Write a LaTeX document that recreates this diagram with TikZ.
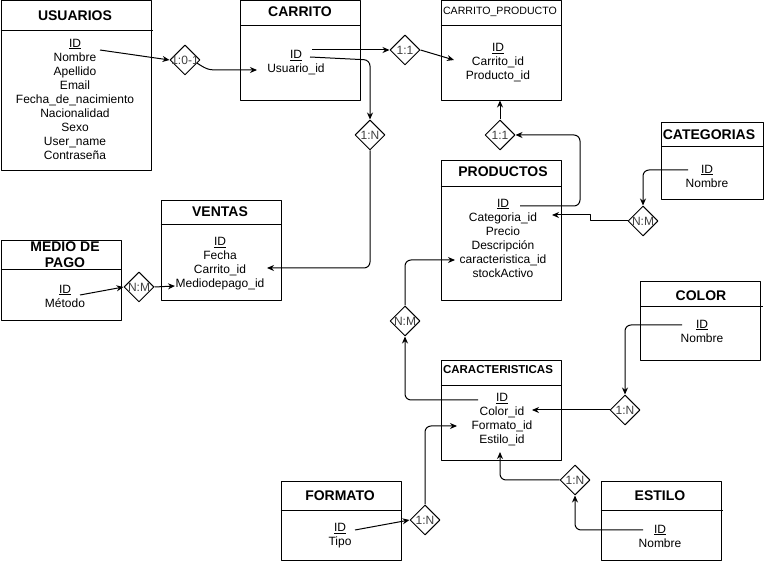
\documentclass[tikz,border=0pt]{standalone}
\usepackage{fontspec}
\setmainfont{Liberation Sans}
\usetikzlibrary{shapes.geometric,arrows.meta}

% caja de entidad: nombre, x, y, ancho, alto, alto de cabecera
\newcommand{\entidad}[6]{%
  \node[caja,minimum width=#4pt,minimum height=#5pt] (#1) at (#2,#3) {};
  \draw ([yshift=-#6pt]#1.north west) -- ([yshift=-#6pt]#1.north east);
}

\begin{document}
\begin{tikzpicture}[x=1pt,y=-1pt,line width=1pt,line join=round,
  >={Stealth[length=7pt,width=6pt]},
  caja/.style={draw,rectangle,inner sep=0pt,anchor=north west},
  titulo/.style={font=\fontsize{14}{16}\selectfont\bfseries,align=center,inner sep=0pt},
  attr/.style={font=\fontsize{12}{14}\selectfont,align=center,inner sep=0pt},
  rombo/.style={draw,diamond,fill=white,minimum width=30pt,minimum height=30pt,
    inner sep=0pt,font=\fontsize{12}{14}\selectfont,text=black!75},
  enlace/.style={->,rounded corners=6pt}]
\useasboundingbox (0,0) rectangle (764,561);

% entidades
\entidad{usuarios}{0.5}{0.5}{150}{170}{30}
\draw (150,30.5) -- (153,30.5);
\node[titulo] (usuariosT) at (75,16) {USUARIOS};
\node[attr] (usuariosA) at (75,99) {\underline{ID}\\Nombre\\Apellido\\Email\\Fecha\_de\_nacimiento\\Nacionalidad\\Sexo\\User\_name\\Contraseña};

\entidad{carrito}{240}{0.5}{120}{100}{25}
\node[titulo] (carritoT) at (300,12) {CARRITO};
\node[attr] (carritoA) at (296,63) {\underline{ID}\\Usuario\_id};

\entidad{cprod}{440.5}{0.5}{120}{100}{25}
\node[titulo,font=\fontsize{10.6}{12}\selectfont] (cprodT) at (500,12) {CARRITO\_PRODUCTO};
\node[attr] (cprodA) at (498,62.5) {\underline{ID}\\Carrito\_id\\Producto\_id};

\entidad{productos}{440.5}{160}{120}{140}{27}
\node[titulo] (productosT) at (503,172) {PRODUCTOS};
\node[attr] (productosA) at (503,238) {\underline{ID}\\Categoria\_id\\Precio\\Descripción\\caracteristica\_id\\stockActivo};

\entidad{categorias}{661}{122}{102}{77}{25}
\node[titulo] (categoriasT) at (709,135) {CATEGORIAS};
\node[attr] (categoriasA) at (707,176) {\underline{ID}\\Nombre};

\entidad{ventas}{160.5}{200}{120}{100}{25}
\node[titulo] (ventasT) at (220,212) {VENTAS};
\node[attr] (ventasA) at (220,263.5) {\underline{ID}\\Fecha\\Carrito\_id\\Mediodepago\_id};

\entidad{medio}{0.5}{240}{120}{80}{30}
\node[titulo] (medioT) at (65,255) {MEDIO DE\\PAGO};
\node[attr] (medioA) at (65,296) {\underline{ID}\\Método};

\entidad{color}{640}{281}{120}{79}{26}
\draw (760,307) -- (763,307);
\node[titulo] (colorT) at (701,296) {COLOR};
\node[attr] (colorA) at (702,331) {\underline{ID}\\Nombre};

\entidad{caract}{440.5}{360}{120}{100}{26}
\node[titulo,font=\fontsize{11.5}{13}\selectfont\bfseries] (caractT) at (498,370) {CARACTERISTICAS};
\node[attr] (caractA) at (502,419.5) {\underline{ID}\\Color\_id\\Formato\_id\\Estilo\_id};

\entidad{formato}{280.5}{481}{120}{79}{30}
\node[titulo] (formatoT) at (340,496) {FORMATO};
\node[attr] (formatoA) at (340,536) {\underline{ID}\\Tipo};

\entidad{estilo}{600.5}{481}{120}{79}{30}
\draw (720,511) -- (723,511);
\node[titulo] (estiloT) at (660,496) {ESTILO};
\node[attr] (estiloA) at (660,536) {\underline{ID}\\Nombre};

% relaciones
\node[rombo] (d1) at (185,60) {\makebox[0pt]{1:0-1}};
\node[rombo] (d2) at (405,50) {\makebox[0pt]{1:1}};
\node[rombo] (d3) at (370,135) {\makebox[0pt]{1:N}};
\node[rombo] (d4) at (500,135) {\makebox[0pt]{1:1}};
\node[rombo] (d5) at (643,221) {\makebox[0pt]{N:M}};
\node[rombo] (d6) at (139,287) {\makebox[0pt]{N:M}};
\node[rombo] (d7) at (405,321) {\makebox[0pt]{N:M}};
\node[rombo] (d8) at (625,410) {\makebox[0pt]{1:N}};
\node[rombo] (d9) at (425,520) {\makebox[0pt]{1:N}};
\node[rombo] (d10) at (575,480) {\makebox[0pt]{1:N}};

% extremos en los atributos
\coordinate (usuID) at (100,50);
\coordinate (carUsu) at (257,70);
\coordinate (carID) at (312,50);
\coordinate (carID2) at (310,57);
\coordinate (cpIn) at (454,60);
\coordinate (venCar) at (267,268);
\coordinate (medID) at (80,295);
\coordinate (venMed) at (175,286);
\coordinate (cpBot) at (500,100.5);
\coordinate (prodID) at (520,206);
\coordinate (catID) at (688,170);
\coordinate (prodCat) at (552,215);
\coordinate (prodCar) at (455,260);
\coordinate (carID3) at (478,400);
\coordinate (colID) at (682,325);
\coordinate (carColor) at (532,410);
\coordinate (forID) at (355,530);
\coordinate (carFor) at (457,426);
\coordinate (estID) at (643,530);
\coordinate (carEst) at (500,452);

% conectores
\draw[->] (usuID) -- (d1.west);
\draw[->] (d1.-15) .. controls (208,70) .. (222,70) -- (carUsu);
\draw[->] (carID) -- (d2.west);
\draw[->] (d2.east) -- (cpIn);
\draw[enlace] (carID2) -- (370,60) -- (d3.north);
\draw[enlace] (d3.south) |- (venCar);
\draw[->] (medID) -- (d6.west);
\draw[->] (d6.east) -- (venMed);
\draw[->] (d4.north) -- (cpBot);
\draw[enlace] (prodID) -| (580,135) -- (d4.east);
\draw[enlace] (catID) -| (d5.north);
\draw[->] (d5.west) -- (590,221) -- (590,215) -- (prodCat);
\draw[enlace] (d7.north) |- (prodCar);
\draw[enlace] (carID3) -| (d7.south);
\draw[enlace] (colID) -| (d8.north);
\draw[->] (d8.west) -- (carColor);
\draw[->] (forID) -- (d9.west);
\draw[enlace] (d9.north) |- (carFor);
\draw[enlace] (estID) -| (d10.south);
\draw[enlace] (d10.west) -| (carEst);
\end{tikzpicture}
\end{document}
